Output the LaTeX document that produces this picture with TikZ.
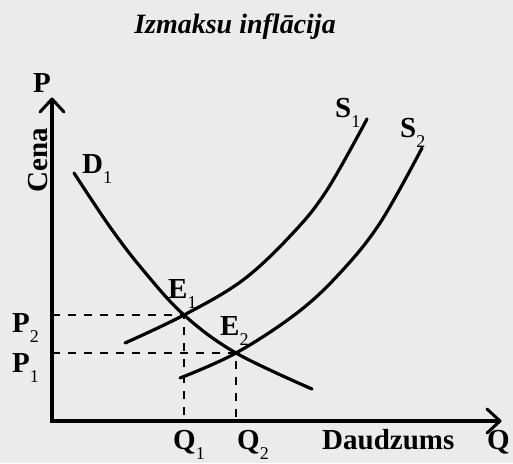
\documentclass[tikz,border=0pt]{standalone}
\usepackage{fontspec}
\setmainfont{Liberation Serif}
\usepackage{tikz}
\newcommand\mysub[1]{\raisebox{-10pt}{\fontsize{18}{18}\mdseries\selectfont #1}}
\begin{document}
\begin{tikzpicture}[x=1pt,y=-1pt,
  curve/.style={line width=3.2pt,line cap=round},
  axisline/.style={line width=3.2pt},
  dashline/.style={line width=2.8pt,dash pattern=on 8pt off 8pt},
  lbl/.style={inner sep=0pt,font=\fontsize{29}{32}\selectfont\bfseries,anchor=base west}]
\useasboundingbox (0,0) rectangle (513,463);
\fill[white!92!black] (0,0) rectangle (513,463);
% points
\coordinate (O) at (52,421);
\coordinate (Ytop) at (52,99);
\coordinate (Xend) at (500,421);
\coordinate (E1) at (184,315);
\coordinate (E2) at (236,353);
\coordinate (Q1) at (184,421);
\coordinate (Q2) at (236,421);
\coordinate (P2) at (52,315);
\coordinate (P1) at (52,353);
% title
\node[inner sep=0pt,font=\fontsize{28}{32}\selectfont\bfseries\itshape,anchor=base] (title) at (235,33) {Izmaksu inflācija};
% axes
\draw[axisline] (Xend) -- (O) -- (Ytop);
\draw[line width=3pt,line cap=round,line join=round] (40,112) -- (Ytop) -- (64,112);
\draw[line width=3pt,line cap=round,line join=round] (487,409) -- (Xend) -- (487,433);
% dashed
\draw[dashline] (P2) -- (E1) -- (Q1);
\draw[dashline] (P1) -- (E2) -- (Q2);
% curves
\draw[curve] plot[smooth,tension=0.6] coordinates {(74,173) (110,227) (143,270) (E1) (E2) (312,389)};
\draw[curve] plot[smooth,tension=0.6] coordinates {(125,343) (E1) (243,280) (293,233) (327,190) (367,119)};
\draw[curve] plot[smooth,tension=0.6] coordinates {(180,378) (E2) (297,313) (340,273) (380,223) (422,148)};
% labels
\node[lbl] (lP) at (33,92) {P};
\node[inner sep=0pt,font=\fontsize{29}{32}\selectfont\bfseries,rotate=90,anchor=base] (lCena) at (47,160) {Cena};
\node[lbl] (lD) at (82,173) {D\mysub{1}};
\node[lbl] (lS1) at (335,117) {S\mysub{1}};
\node[lbl] (lS2) at (400,137) {S\mysub{2}};
\node[lbl] (lE1) at (168,298) {E\mysub{1}};
\node[lbl] (lE2) at (220,335) {E\mysub{2}};
\node[lbl] (lP2) at (12,332) {P\mysub{2}};
\node[lbl] (lP1) at (12,372) {P\mysub{1}};
\node[lbl] (lQ1) at (173,449) {Q\mysub{1}};
\node[lbl] (lQ2) at (237,449) {Q\mysub{2}};
\node[lbl] (lDaud) at (322,449) {Daudzums};
\node[lbl] (lQ) at (487,449) {Q};
\end{tikzpicture}
\end{document}
